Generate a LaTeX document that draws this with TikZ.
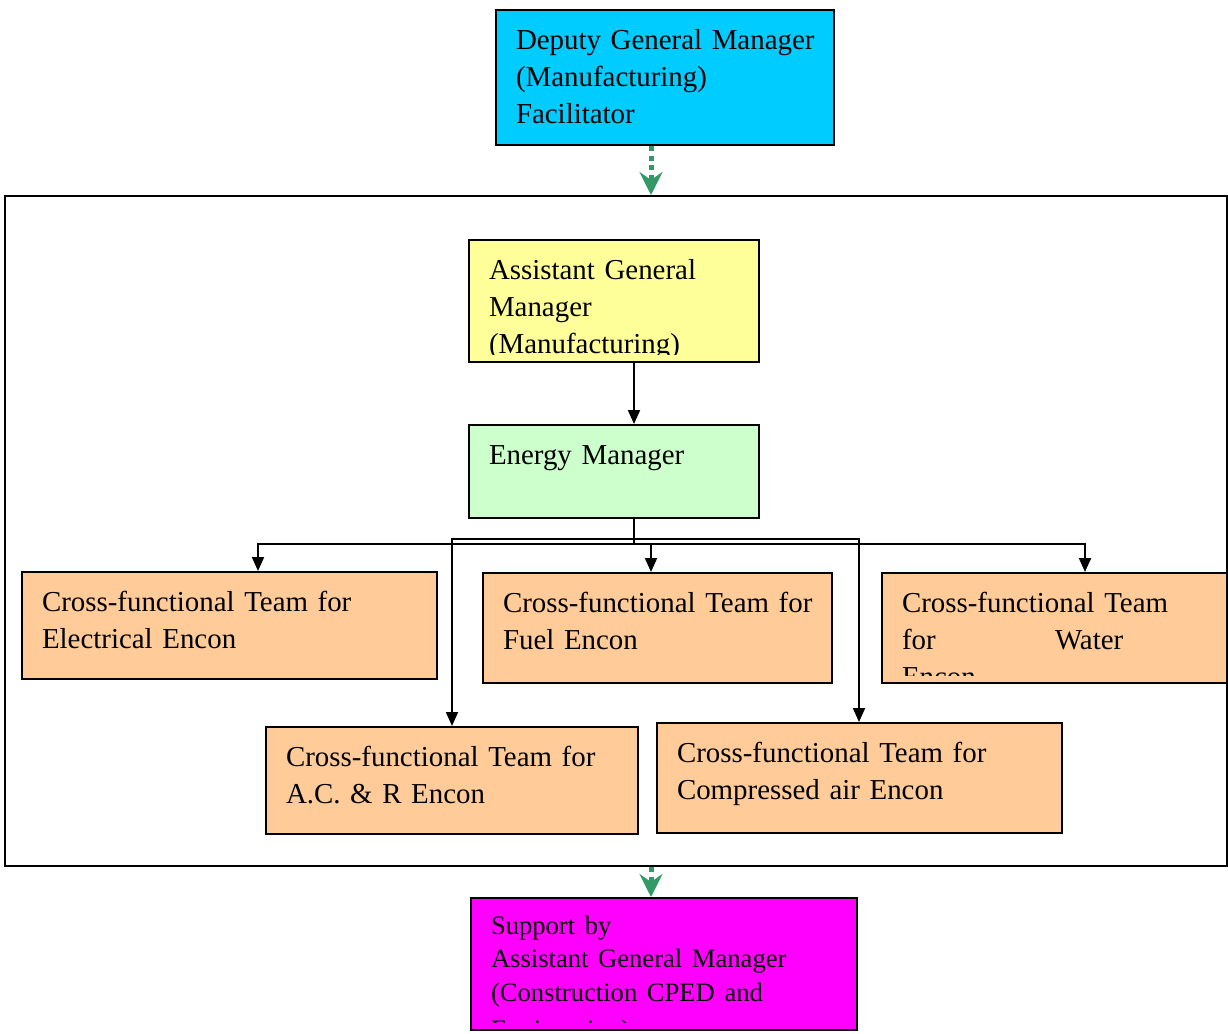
\documentclass[tikz,border=0pt]{standalone}
\usepackage{fontspec}
\setmainfont{Liberation Serif}
\usetikzlibrary{arrows.meta,fit}
\definecolor{dgmblue}{HTML}{00CCFF}
\definecolor{agmyellow}{HTML}{FFFF99}
\definecolor{emgreen}{HTML}{CCFFCC}
\definecolor{teamorange}{HTML}{FFCC99}
\definecolor{supmagenta}{HTML}{FF00FF}
\definecolor{facilgreen}{HTML}{339966}
\begin{document}
\begin{tikzpicture}[x=0.5pt,y=-0.5pt,
  text drop/.store in=\textdrop, text drop=19.5pt,
  orgbox/.style={draw, line width=1pt, inner sep=0pt},
  boxtext/.style={anchor=base west, inner sep=0pt, text width=300pt, align=left,
    font=\fontsize{14.45pt}{18.5pt}\selectfont},
  textin/.style={path picture={
    \clip (path picture bounding box.north west) rectangle ([yshift=4pt]path picture bounding box.south east);
    \node[boxtext] at ([xshift=9.5pt,yshift=-\textdrop]path picture bounding box.north west) {#1};}},
  link/.style={line width=1pt, -{Triangle[length=7pt,width=6pt]}},
  twolink/.style={line width=1pt, {Triangle[length=7pt,width=6pt]}-{Triangle[length=7pt,width=6pt]}},
  wire/.style={line width=1pt},
  facil/.style={draw=facilgreen, line width=2.5pt, dash pattern=on 2.5pt off 2.3pt,
    -{Stealth[length=11.5pt,width=11.5pt,inset=4pt]}}]
\useasboundingbox (0,0) rectangle (1228,1034);
% x positions of the connectors
\coordinate (xg) at (651,0);
\coordinate (xm) at (634,0);
\coordinate (xe) at (258,0);
\coordinate (xw) at (1085,0);
\coordinate (xa) at (452,0);
\coordinate (xc) at (859,0);
\coordinate (bus) at (634,544);
\coordinate (bustwo) at (452,539);

\node[orgbox, fit={(5,196) (1227,866)}] (outer) {};

\node[orgbox, fill=dgmblue, fit={(496,10) (834,145)},
  textin={Deputy General Manager\\(Manufacturing)\\Facilitator}] (dgm) {};
\node[orgbox, fill=agmyellow, fit={(469,240) (759,362)},
  textin={Assistant General\\Manager\\(Manufacturing)}] (agm) {};
\node[orgbox, fill=emgreen, fit={(469,425) (759,518)},
  textin={Energy Manager}] (em) {};

\node[orgbox, fill=teamorange, fit={(22,572) (437,679)},
  textin={Cross-functional Team for\\Electrical Encon}] (elec) {};
\node[orgbox, fill=teamorange, fit={(483,573) (832,683)},
  textin={Cross-functional Team for\\Fuel Encon}] (fuel) {};
\node[orgbox, fill=teamorange, fit={(882,573) (1227,683)},
  textin={Cross-functional Team\\\makebox[76.5pt][l]{for}Water\\Encon}] (water) {};
\node[orgbox, fill=teamorange, fit={(266,727) (638,834)},
  textin={Cross-functional Team for\\A.C. \& R Encon}] (ac) {};
\node[orgbox, fill=teamorange, fit={(657,723) (1062,833)},
  textin={Cross-functional Team for\\Compressed air Encon}] (comp) {};

\node[orgbox, fill=supmagenta, fit={(471,898) (857,1030)}, text drop=18pt,
  textin={\fontsize{13.3pt}{16.8pt}\selectfont Support by\\Assistant General Manager\\(Construction CPED and\\Engineering)}] (sup) {};

\draw[facil] (xg |- dgm.south) -- (xg |- outer.north);
\draw[facil] (xg |- outer.south) -- (xg |- sup.north);

\draw[link] (xm |- agm.south) -- (xm |- em.north);
\draw[wire] (xm |- em.south) -- (bus);
\draw[twolink] (xe |- elec.north) |- (bus) -| (xw |- water.north);
\draw[link] (bus -| xg) -- (xg |- fuel.north);
\draw[twolink] (xa |- ac.north) |- (bustwo) -| (xc |- comp.north);
\end{tikzpicture}
\end{document}
